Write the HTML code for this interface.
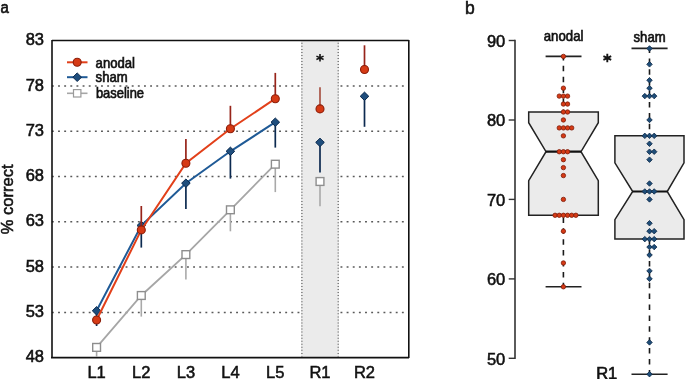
<!DOCTYPE html>
<html><head><meta charset="utf-8"><style>
html,body{margin:0;padding:0;background:#fff;}
body{width:685px;height:379px;overflow:hidden;font-family:"Liberation Sans",sans-serif;}
svg{display:block;will-change:transform;}
</style></head><body>
<svg width="685" height="379" viewBox="0 0 685 379">
<rect width="685" height="379" fill="#fff"/>
<text transform="translate(0.5,12.9) scale(0.95,1)" font-family="Liberation Sans, sans-serif" font-size="15.8" fill="#111" stroke="#111" stroke-width="0.65">a</text>
<text x="44.0" y="45.2" font-family="Liberation Sans, sans-serif" stroke="#111" stroke-width="0.55" font-size="16.5" fill="#111" text-anchor="end">83</text>
<text x="44.0" y="90.5" font-family="Liberation Sans, sans-serif" stroke="#111" stroke-width="0.55" font-size="16.5" fill="#111" text-anchor="end">78</text>
<text x="44.0" y="135.8" font-family="Liberation Sans, sans-serif" stroke="#111" stroke-width="0.55" font-size="16.5" fill="#111" text-anchor="end">73</text>
<text x="44.0" y="181.1" font-family="Liberation Sans, sans-serif" stroke="#111" stroke-width="0.55" font-size="16.5" fill="#111" text-anchor="end">68</text>
<text x="44.0" y="226.4" font-family="Liberation Sans, sans-serif" stroke="#111" stroke-width="0.55" font-size="16.5" fill="#111" text-anchor="end">63</text>
<text x="44.0" y="271.7" font-family="Liberation Sans, sans-serif" stroke="#111" stroke-width="0.55" font-size="16.5" fill="#111" text-anchor="end">58</text>
<text x="44.0" y="317.0" font-family="Liberation Sans, sans-serif" stroke="#111" stroke-width="0.55" font-size="16.5" fill="#111" text-anchor="end">53</text>
<text x="44.0" y="362.3" font-family="Liberation Sans, sans-serif" stroke="#111" stroke-width="0.55" font-size="16.5" fill="#111" text-anchor="end">48</text>
<text transform="translate(13.3,199.3) rotate(-90)" font-family="Liberation Sans, sans-serif" stroke="#111" stroke-width="0.55" font-size="16.5" fill="#111" text-anchor="middle">% correct</text>
<line x1="51.9" y1="85.90" x2="408" y2="85.90" stroke="#5a5a5a" stroke-width="1.5" stroke-dasharray="1.9 4.24"/>
<line x1="51.9" y1="131.20" x2="408" y2="131.20" stroke="#5a5a5a" stroke-width="1.5" stroke-dasharray="1.9 4.24"/>
<line x1="51.9" y1="176.50" x2="408" y2="176.50" stroke="#5a5a5a" stroke-width="1.5" stroke-dasharray="1.9 4.24"/>
<line x1="51.9" y1="221.80" x2="408" y2="221.80" stroke="#5a5a5a" stroke-width="1.5" stroke-dasharray="1.9 4.24"/>
<line x1="51.9" y1="267.10" x2="408" y2="267.10" stroke="#5a5a5a" stroke-width="1.5" stroke-dasharray="1.9 4.24"/>
<line x1="51.9" y1="312.40" x2="408" y2="312.40" stroke="#5a5a5a" stroke-width="1.5" stroke-dasharray="1.9 4.24"/>
<rect x="301" y="41" width="38" height="316" fill="#ebebeb"/>
<line x1="301.9" y1="42.8" x2="301.9" y2="356.5" stroke="#6a6a6a" stroke-width="1.3" stroke-dasharray="1 2.04"/>
<line x1="338.2" y1="42.8" x2="338.2" y2="356.5" stroke="#6a6a6a" stroke-width="1.3" stroke-dasharray="1 2.04"/>
<path d="M52,40.5 H408.8 M408.8,40 V358 M52,40 V358 M51,357.6 H409" stroke="#111" stroke-width="1.6" fill="none"/>
<polyline points="96.6,347.4 141.3,295.5 185.9,254.6 230.4,209.8 275.3,164.2" fill="none" stroke="#a6a6a6" stroke-width="1.8"/>
<line x1="96.6" y1="347.4" x2="96.6" y2="357" stroke="#a9a9a9" stroke-width="1.6"/>
<line x1="141.3" y1="295.5" x2="141.3" y2="316.6" stroke="#a9a9a9" stroke-width="1.6"/>
<line x1="185.9" y1="254.6" x2="185.9" y2="279.6" stroke="#a9a9a9" stroke-width="1.6"/>
<line x1="230.4" y1="209.8" x2="230.4" y2="231.3" stroke="#a9a9a9" stroke-width="1.6"/>
<line x1="275.3" y1="164.2" x2="275.3" y2="192.1" stroke="#a9a9a9" stroke-width="1.6"/>
<line x1="320.0" y1="181.5" x2="320.0" y2="206.3" stroke="#a9a9a9" stroke-width="1.6"/>
<rect x="92.7" y="343.5" width="7.8" height="7.8" fill="#fff" stroke="#8e8e8e" stroke-width="1.4"/>
<rect x="137.4" y="291.6" width="7.8" height="7.8" fill="#fff" stroke="#8e8e8e" stroke-width="1.4"/>
<rect x="182.0" y="250.7" width="7.8" height="7.8" fill="#fff" stroke="#8e8e8e" stroke-width="1.4"/>
<rect x="226.5" y="205.9" width="7.8" height="7.8" fill="#fff" stroke="#8e8e8e" stroke-width="1.4"/>
<rect x="271.4" y="160.3" width="7.8" height="7.8" fill="#fff" stroke="#8e8e8e" stroke-width="1.4"/>
<rect x="316.1" y="177.6" width="7.8" height="7.8" fill="#fff" stroke="#8e8e8e" stroke-width="1.4"/>
<polyline points="96.6,310.8 141.3,225.5 185.9,183.2 230.4,151.3 275.3,122.2" fill="none" stroke="#1f5a96" stroke-width="2"/>
<line x1="96.6" y1="310.8" x2="96.6" y2="326" stroke="#0c2a50" stroke-width="1.7"/>
<line x1="141.3" y1="225.5" x2="141.3" y2="247.6" stroke="#0c2a50" stroke-width="1.7"/>
<line x1="185.9" y1="183.2" x2="185.9" y2="209" stroke="#0c2a50" stroke-width="1.7"/>
<line x1="230.4" y1="151.3" x2="230.4" y2="178.6" stroke="#0c2a50" stroke-width="1.7"/>
<line x1="275.3" y1="122.2" x2="275.3" y2="147.6" stroke="#0c2a50" stroke-width="1.7"/>
<line x1="320.0" y1="142.4" x2="320.0" y2="172.6" stroke="#0c2a50" stroke-width="1.7"/>
<line x1="364.5" y1="96.3" x2="364.5" y2="126.8" stroke="#0c2a50" stroke-width="1.7"/>
<path d="M96.6,306.6 L100.9,310.8 L96.6,315.0 L92.3,310.8 Z" fill="#1f4e7d" stroke="#0b2a4e" stroke-width="1"/>
<path d="M141.3,221.3 L145.6,225.5 L141.3,229.7 L137.0,225.5 Z" fill="#1f4e7d" stroke="#0b2a4e" stroke-width="1"/>
<path d="M185.9,179.0 L190.2,183.2 L185.9,187.4 L181.6,183.2 Z" fill="#1f4e7d" stroke="#0b2a4e" stroke-width="1"/>
<path d="M230.4,147.1 L234.7,151.3 L230.4,155.5 L226.1,151.3 Z" fill="#1f4e7d" stroke="#0b2a4e" stroke-width="1"/>
<path d="M275.3,118.0 L279.6,122.2 L275.3,126.4 L271.0,122.2 Z" fill="#1f4e7d" stroke="#0b2a4e" stroke-width="1"/>
<path d="M320.0,138.2 L324.3,142.4 L320.0,146.6 L315.7,142.4 Z" fill="#1f4e7d" stroke="#0b2a4e" stroke-width="1"/>
<path d="M364.5,92.1 L368.8,96.3 L364.5,100.5 L360.2,96.3 Z" fill="#1f4e7d" stroke="#0b2a4e" stroke-width="1"/>
<polyline points="96.6,320.0 141.3,229.9 185.9,163.2 230.4,128.7 275.3,98.7" fill="none" stroke="#e2401a" stroke-width="2"/>
<line x1="96.6" y1="320.0" x2="96.6" y2="316" stroke="#97241a" stroke-width="1.7"/>
<line x1="141.3" y1="229.9" x2="141.3" y2="206" stroke="#97241a" stroke-width="1.7"/>
<line x1="185.9" y1="163.2" x2="185.9" y2="139" stroke="#97241a" stroke-width="1.7"/>
<line x1="230.4" y1="128.7" x2="230.4" y2="105.8" stroke="#97241a" stroke-width="1.7"/>
<line x1="275.3" y1="98.7" x2="275.3" y2="72.9" stroke="#97241a" stroke-width="1.7"/>
<line x1="320.0" y1="108.9" x2="320.0" y2="87.2" stroke="#a85446" stroke-width="1.7"/>
<line x1="364.5" y1="69.5" x2="364.5" y2="45.3" stroke="#97241a" stroke-width="1.7"/>
<circle cx="96.6" cy="320.0" r="4" fill="#d63a15" stroke="#8c1e0a" stroke-width="1.1"/>
<circle cx="141.3" cy="229.9" r="4" fill="#d63a15" stroke="#8c1e0a" stroke-width="1.1"/>
<circle cx="185.9" cy="163.2" r="4" fill="#d63a15" stroke="#8c1e0a" stroke-width="1.1"/>
<circle cx="230.4" cy="128.7" r="4" fill="#d63a15" stroke="#8c1e0a" stroke-width="1.1"/>
<circle cx="275.3" cy="98.7" r="4" fill="#d63a15" stroke="#8c1e0a" stroke-width="1.1"/>
<circle cx="320.0" cy="108.9" r="4" fill="#d63a15" stroke="#8c1e0a" stroke-width="1.1"/>
<circle cx="364.5" cy="69.5" r="4" fill="#d63a15" stroke="#8c1e0a" stroke-width="1.1"/>
<path d="M320.0,54.0 V61.599999999999994 M316.4,56.099999999999994 L323.6,59.5 M316.4,59.5 L323.6,56.099999999999994" stroke="#151515" stroke-width="1.6" fill="none"/>
<line x1="67" y1="62.3" x2="87.5" y2="62.3" stroke="#e2401a" stroke-width="2"/>
<circle cx="77.2" cy="62.3" r="4" fill="#d63a15" stroke="#8c1e0a" stroke-width="1.1"/>
<line x1="67" y1="77.2" x2="87.5" y2="77.2" stroke="#1f5a96" stroke-width="2"/>
<path d="M77.2,72.9 L81.5,77.2 L77.2,81.5 L72.9,77.2 Z" fill="#1f4e7d" stroke="#0b2a4e" stroke-width="1"/>
<line x1="67" y1="93.3" x2="87.5" y2="93.3" stroke="#a6a6a6" stroke-width="1.6"/>
<rect x="73.5" y="89.6" width="7.4" height="7.4" fill="#fff" stroke="#9a9a9a" stroke-width="1.2"/>
<text transform="translate(95.6,67.6) scale(0.925,1)" font-family="Liberation Sans, sans-serif" font-size="14.2" fill="#111" stroke="#111" stroke-width="0.65">anodal</text>
<text transform="translate(95.6,82.4) scale(0.925,1)" font-family="Liberation Sans, sans-serif" font-size="14.2" fill="#111" stroke="#111" stroke-width="0.65">sham</text>
<text transform="translate(95.9,97.8) scale(0.91,1)" font-family="Liberation Sans, sans-serif" font-size="14.2" fill="#111" stroke="#111" stroke-width="0.65">baseline</text>
<text x="96.6" y="378.2" font-family="Liberation Sans, sans-serif" stroke="#111" stroke-width="0.55" font-size="16.5" fill="#111" text-anchor="middle">L1</text>
<text x="141.3" y="378.2" font-family="Liberation Sans, sans-serif" stroke="#111" stroke-width="0.55" font-size="16.5" fill="#111" text-anchor="middle">L2</text>
<text x="185.9" y="378.2" font-family="Liberation Sans, sans-serif" stroke="#111" stroke-width="0.55" font-size="16.5" fill="#111" text-anchor="middle">L3</text>
<text x="230.4" y="378.2" font-family="Liberation Sans, sans-serif" stroke="#111" stroke-width="0.55" font-size="16.5" fill="#111" text-anchor="middle">L4</text>
<text x="275.3" y="378.2" font-family="Liberation Sans, sans-serif" stroke="#111" stroke-width="0.55" font-size="16.5" fill="#111" text-anchor="middle">L5</text>
<text x="320.0" y="378.2" font-family="Liberation Sans, sans-serif" stroke="#111" stroke-width="0.55" font-size="16.5" fill="#111" text-anchor="middle">R1</text>
<text x="364.5" y="378.2" font-family="Liberation Sans, sans-serif" stroke="#111" stroke-width="0.55" font-size="16.5" fill="#111" text-anchor="middle">R2</text>
<text x="465" y="13.9" font-family="Liberation Sans, sans-serif" stroke="#111" stroke-width="0.55" font-size="17.5" fill="#111">b</text>
<text x="505.3" y="46.8" font-family="Liberation Sans, sans-serif" stroke="#111" stroke-width="0.55" font-size="16.5" fill="#111" text-anchor="end">90</text>
<text x="505.3" y="126.2" font-family="Liberation Sans, sans-serif" stroke="#111" stroke-width="0.55" font-size="16.5" fill="#111" text-anchor="end">80</text>
<text x="505.3" y="205.7" font-family="Liberation Sans, sans-serif" stroke="#111" stroke-width="0.55" font-size="16.5" fill="#111" text-anchor="end">70</text>
<text x="505.3" y="285.2" font-family="Liberation Sans, sans-serif" stroke="#111" stroke-width="0.55" font-size="16.5" fill="#111" text-anchor="end">60</text>
<text x="505.3" y="364.6" font-family="Liberation Sans, sans-serif" stroke="#111" stroke-width="0.55" font-size="16.5" fill="#111" text-anchor="end">50</text>
<line x1="515" y1="39.8" x2="515" y2="359.0" stroke="#333" stroke-width="1.6"/>
<line x1="508.7" y1="40.5" x2="515" y2="40.5" stroke="#333" stroke-width="1.4"/>
<line x1="508.7" y1="120.0" x2="515" y2="120.0" stroke="#333" stroke-width="1.4"/>
<line x1="508.7" y1="199.4" x2="515" y2="199.4" stroke="#333" stroke-width="1.4"/>
<line x1="508.7" y1="278.9" x2="515" y2="278.9" stroke="#333" stroke-width="1.4"/>
<line x1="508.7" y1="358.3" x2="515" y2="358.3" stroke="#333" stroke-width="1.4"/>
<line x1="563.4" y1="56.39" x2="563.4" y2="112.00" stroke="#1a1a1a" stroke-width="1.6" stroke-dasharray="5.5 5.4" stroke-dashoffset="1.5"/>
<line x1="563.4" y1="215.29" x2="563.4" y2="286.80" stroke="#1a1a1a" stroke-width="1.6" stroke-dasharray="5.5 5.4" stroke-dashoffset="8.8"/>
<line x1="545.6" y1="56.4" x2="581.5" y2="56.4" stroke="#222" stroke-width="1.6"/>
<line x1="545.6" y1="286.8" x2="581.5" y2="286.8" stroke="#222" stroke-width="1.6"/>
<path d="M528.7,112.0 H598.3 V122.7 L581.0,151.7 L598.3,180.7 V215.3 H528.7 V180.7 L546.0,151.7 L528.7,122.7 Z" fill="#ebebeb" stroke="#222" stroke-width="1.5" stroke-linejoin="miter"/>
<line x1="546.0" y1="151.7" x2="581.0" y2="151.7" stroke="#111" stroke-width="2.2"/>
<line x1="649.5" y1="48.45" x2="649.5" y2="135.84" stroke="#1a1a1a" stroke-width="1.6" stroke-dasharray="5.5 5.4" stroke-dashoffset="0.95"/>
<line x1="649.5" y1="239.12" x2="649.5" y2="374.19" stroke="#1a1a1a" stroke-width="1.6" stroke-dasharray="5.5 5.4" stroke-dashoffset="0"/>
<line x1="631.5" y1="48.4" x2="667.6" y2="48.4" stroke="#222" stroke-width="1.6"/>
<line x1="631.5" y1="374.2" x2="667.6" y2="374.2" stroke="#222" stroke-width="1.6"/>
<path d="M614.9,135.8 H684.0 V162.9 L667.2,191.5 L684.0,219.7 V239.1 H614.9 V219.7 L632.7,191.5 L614.9,162.9 Z" fill="#ebebeb" stroke="#222" stroke-width="1.5" stroke-linejoin="miter"/>
<line x1="632.7" y1="191.5" x2="667.2" y2="191.5" stroke="#111" stroke-width="2.2"/>
<circle cx="563.40" cy="56.39" r="2.2" fill="#d63a15" stroke="#7e1c0a" stroke-width="0.8"/>
<circle cx="563.40" cy="88.17" r="2.2" fill="#d63a15" stroke="#7e1c0a" stroke-width="0.8"/>
<circle cx="559.25" cy="96.12" r="2.2" fill="#d63a15" stroke="#7e1c0a" stroke-width="0.8"/>
<circle cx="563.40" cy="96.12" r="2.2" fill="#d63a15" stroke="#7e1c0a" stroke-width="0.8"/>
<circle cx="567.55" cy="96.12" r="2.2" fill="#d63a15" stroke="#7e1c0a" stroke-width="0.8"/>
<circle cx="563.40" cy="104.06" r="2.2" fill="#d63a15" stroke="#7e1c0a" stroke-width="0.8"/>
<circle cx="567.55" cy="104.06" r="2.2" fill="#d63a15" stroke="#7e1c0a" stroke-width="0.8"/>
<circle cx="563.40" cy="112.00" r="2.2" fill="#d63a15" stroke="#7e1c0a" stroke-width="0.8"/>
<circle cx="567.55" cy="112.00" r="2.2" fill="#d63a15" stroke="#7e1c0a" stroke-width="0.8"/>
<circle cx="563.40" cy="119.95" r="2.2" fill="#d63a15" stroke="#7e1c0a" stroke-width="0.8"/>
<circle cx="559.25" cy="127.90" r="2.2" fill="#d63a15" stroke="#7e1c0a" stroke-width="0.8"/>
<circle cx="563.40" cy="127.90" r="2.2" fill="#d63a15" stroke="#7e1c0a" stroke-width="0.8"/>
<circle cx="567.55" cy="127.90" r="2.2" fill="#d63a15" stroke="#7e1c0a" stroke-width="0.8"/>
<circle cx="571.70" cy="127.90" r="2.2" fill="#d63a15" stroke="#7e1c0a" stroke-width="0.8"/>
<circle cx="563.40" cy="135.84" r="2.2" fill="#d63a15" stroke="#7e1c0a" stroke-width="0.8"/>
<circle cx="559.25" cy="151.73" r="2.2" fill="#d63a15" stroke="#7e1c0a" stroke-width="0.8"/>
<circle cx="563.40" cy="151.73" r="2.2" fill="#d63a15" stroke="#7e1c0a" stroke-width="0.8"/>
<circle cx="567.55" cy="151.73" r="2.2" fill="#d63a15" stroke="#7e1c0a" stroke-width="0.8"/>
<circle cx="563.40" cy="159.68" r="2.2" fill="#d63a15" stroke="#7e1c0a" stroke-width="0.8"/>
<circle cx="563.40" cy="167.62" r="2.2" fill="#d63a15" stroke="#7e1c0a" stroke-width="0.8"/>
<circle cx="563.40" cy="175.56" r="2.2" fill="#d63a15" stroke="#7e1c0a" stroke-width="0.8"/>
<circle cx="563.40" cy="199.40" r="2.2" fill="#d63a15" stroke="#7e1c0a" stroke-width="0.8"/>
<circle cx="555.10" cy="215.29" r="2.2" fill="#d63a15" stroke="#7e1c0a" stroke-width="0.8"/>
<circle cx="559.25" cy="215.29" r="2.2" fill="#d63a15" stroke="#7e1c0a" stroke-width="0.8"/>
<circle cx="563.40" cy="215.29" r="2.2" fill="#d63a15" stroke="#7e1c0a" stroke-width="0.8"/>
<circle cx="567.55" cy="215.29" r="2.2" fill="#d63a15" stroke="#7e1c0a" stroke-width="0.8"/>
<circle cx="571.70" cy="215.29" r="2.2" fill="#d63a15" stroke="#7e1c0a" stroke-width="0.8"/>
<circle cx="575.85" cy="215.29" r="2.2" fill="#d63a15" stroke="#7e1c0a" stroke-width="0.8"/>
<circle cx="563.40" cy="231.18" r="2.2" fill="#d63a15" stroke="#7e1c0a" stroke-width="0.8"/>
<circle cx="563.40" cy="262.96" r="2.2" fill="#d63a15" stroke="#7e1c0a" stroke-width="0.8"/>
<circle cx="563.40" cy="286.80" r="2.2" fill="#d63a15" stroke="#7e1c0a" stroke-width="0.8"/>
<path d="M649.50,45.70 L652.25,48.45 L649.50,51.20 L646.75,48.45 Z" fill="#1f4e79" stroke="#0a2645" stroke-width="0.8"/>
<path d="M649.50,61.59 L652.25,64.34 L649.50,67.09 L646.75,64.34 Z" fill="#1f4e79" stroke="#0a2645" stroke-width="0.8"/>
<path d="M649.50,77.47 L652.25,80.22 L649.50,82.97 L646.75,80.22 Z" fill="#1f4e79" stroke="#0a2645" stroke-width="0.8"/>
<path d="M649.50,85.42 L652.25,88.17 L649.50,90.92 L646.75,88.17 Z" fill="#1f4e79" stroke="#0a2645" stroke-width="0.8"/>
<path d="M644.80,93.37 L647.55,96.12 L644.80,98.87 L642.05,96.12 Z" fill="#1f4e79" stroke="#0a2645" stroke-width="0.8"/>
<path d="M649.50,93.37 L652.25,96.12 L649.50,98.87 L646.75,96.12 Z" fill="#1f4e79" stroke="#0a2645" stroke-width="0.8"/>
<path d="M654.20,93.37 L656.95,96.12 L654.20,98.87 L651.45,96.12 Z" fill="#1f4e79" stroke="#0a2645" stroke-width="0.8"/>
<path d="M649.50,117.20 L652.25,119.95 L649.50,122.70 L646.75,119.95 Z" fill="#1f4e79" stroke="#0a2645" stroke-width="0.8"/>
<path d="M644.80,133.09 L647.55,135.84 L644.80,138.59 L642.05,135.84 Z" fill="#1f4e79" stroke="#0a2645" stroke-width="0.8"/>
<path d="M649.50,133.09 L652.25,135.84 L649.50,138.59 L646.75,135.84 Z" fill="#1f4e79" stroke="#0a2645" stroke-width="0.8"/>
<path d="M654.20,133.09 L656.95,135.84 L654.20,138.59 L651.45,135.84 Z" fill="#1f4e79" stroke="#0a2645" stroke-width="0.8"/>
<path d="M649.50,141.03 L652.25,143.78 L649.50,146.53 L646.75,143.78 Z" fill="#1f4e79" stroke="#0a2645" stroke-width="0.8"/>
<path d="M649.50,148.98 L652.25,151.73 L649.50,154.48 L646.75,151.73 Z" fill="#1f4e79" stroke="#0a2645" stroke-width="0.8"/>
<path d="M654.20,148.98 L656.95,151.73 L654.20,154.48 L651.45,151.73 Z" fill="#1f4e79" stroke="#0a2645" stroke-width="0.8"/>
<path d="M649.50,156.93 L652.25,159.68 L649.50,162.43 L646.75,159.68 Z" fill="#1f4e79" stroke="#0a2645" stroke-width="0.8"/>
<path d="M649.50,180.76 L652.25,183.51 L649.50,186.26 L646.75,183.51 Z" fill="#1f4e79" stroke="#0a2645" stroke-width="0.8"/>
<path d="M644.80,188.71 L647.55,191.46 L644.80,194.21 L642.05,191.46 Z" fill="#1f4e79" stroke="#0a2645" stroke-width="0.8"/>
<path d="M649.50,188.71 L652.25,191.46 L649.50,194.21 L646.75,191.46 Z" fill="#1f4e79" stroke="#0a2645" stroke-width="0.8"/>
<path d="M654.20,188.71 L656.95,191.46 L654.20,194.21 L651.45,191.46 Z" fill="#1f4e79" stroke="#0a2645" stroke-width="0.8"/>
<path d="M649.50,196.65 L652.25,199.40 L649.50,202.15 L646.75,199.40 Z" fill="#1f4e79" stroke="#0a2645" stroke-width="0.8"/>
<path d="M649.50,220.49 L652.25,223.24 L649.50,225.99 L646.75,223.24 Z" fill="#1f4e79" stroke="#0a2645" stroke-width="0.8"/>
<path d="M649.50,228.43 L652.25,231.18 L649.50,233.93 L646.75,231.18 Z" fill="#1f4e79" stroke="#0a2645" stroke-width="0.8"/>
<path d="M654.20,228.43 L656.95,231.18 L654.20,233.93 L651.45,231.18 Z" fill="#1f4e79" stroke="#0a2645" stroke-width="0.8"/>
<path d="M644.80,236.38 L647.55,239.12 L644.80,241.88 L642.05,239.12 Z" fill="#1f4e79" stroke="#0a2645" stroke-width="0.8"/>
<path d="M649.50,236.38 L652.25,239.12 L649.50,241.88 L646.75,239.12 Z" fill="#1f4e79" stroke="#0a2645" stroke-width="0.8"/>
<path d="M654.20,236.38 L656.95,239.12 L654.20,241.88 L651.45,239.12 Z" fill="#1f4e79" stroke="#0a2645" stroke-width="0.8"/>
<path d="M649.50,244.32 L652.25,247.07 L649.50,249.82 L646.75,247.07 Z" fill="#1f4e79" stroke="#0a2645" stroke-width="0.8"/>
<path d="M654.20,244.32 L656.95,247.07 L654.20,249.82 L651.45,247.07 Z" fill="#1f4e79" stroke="#0a2645" stroke-width="0.8"/>
<path d="M649.50,252.27 L652.25,255.02 L649.50,257.76 L646.75,255.02 Z" fill="#1f4e79" stroke="#0a2645" stroke-width="0.8"/>
<path d="M649.50,268.15 L652.25,270.90 L649.50,273.65 L646.75,270.90 Z" fill="#1f4e79" stroke="#0a2645" stroke-width="0.8"/>
<path d="M649.50,276.10 L652.25,278.85 L649.50,281.60 L646.75,278.85 Z" fill="#1f4e79" stroke="#0a2645" stroke-width="0.8"/>
<path d="M649.50,339.66 L652.25,342.41 L649.50,345.16 L646.75,342.41 Z" fill="#1f4e79" stroke="#0a2645" stroke-width="0.8"/>
<path d="M649.50,371.44 L652.25,374.19 L649.50,376.94 L646.75,374.19 Z" fill="#1f4e79" stroke="#0a2645" stroke-width="0.8"/>
<text transform="translate(563.6,41.4) scale(0.93,1)" font-family="Liberation Sans, sans-serif" font-size="14.2" fill="#111" stroke="#111" stroke-width="0.65" text-anchor="middle">anodal</text>
<text transform="translate(649.6,41.8) scale(0.925,1)" font-family="Liberation Sans, sans-serif" font-size="14.2" fill="#111" stroke="#111" stroke-width="0.65" text-anchor="middle">sham</text>
<path d="M607.3,53.8 V62.2 M603.4,56.2 L611.1999999999999,59.8 M603.4,59.8 L611.1999999999999,56.2" stroke="#151515" stroke-width="1.9" fill="none"/>
<text transform="translate(596.2,378.5)" font-family="Liberation Sans, sans-serif" font-size="16.5" fill="#111" stroke="#111" stroke-width="0.65">R1</text>
</svg>
</body></html>
